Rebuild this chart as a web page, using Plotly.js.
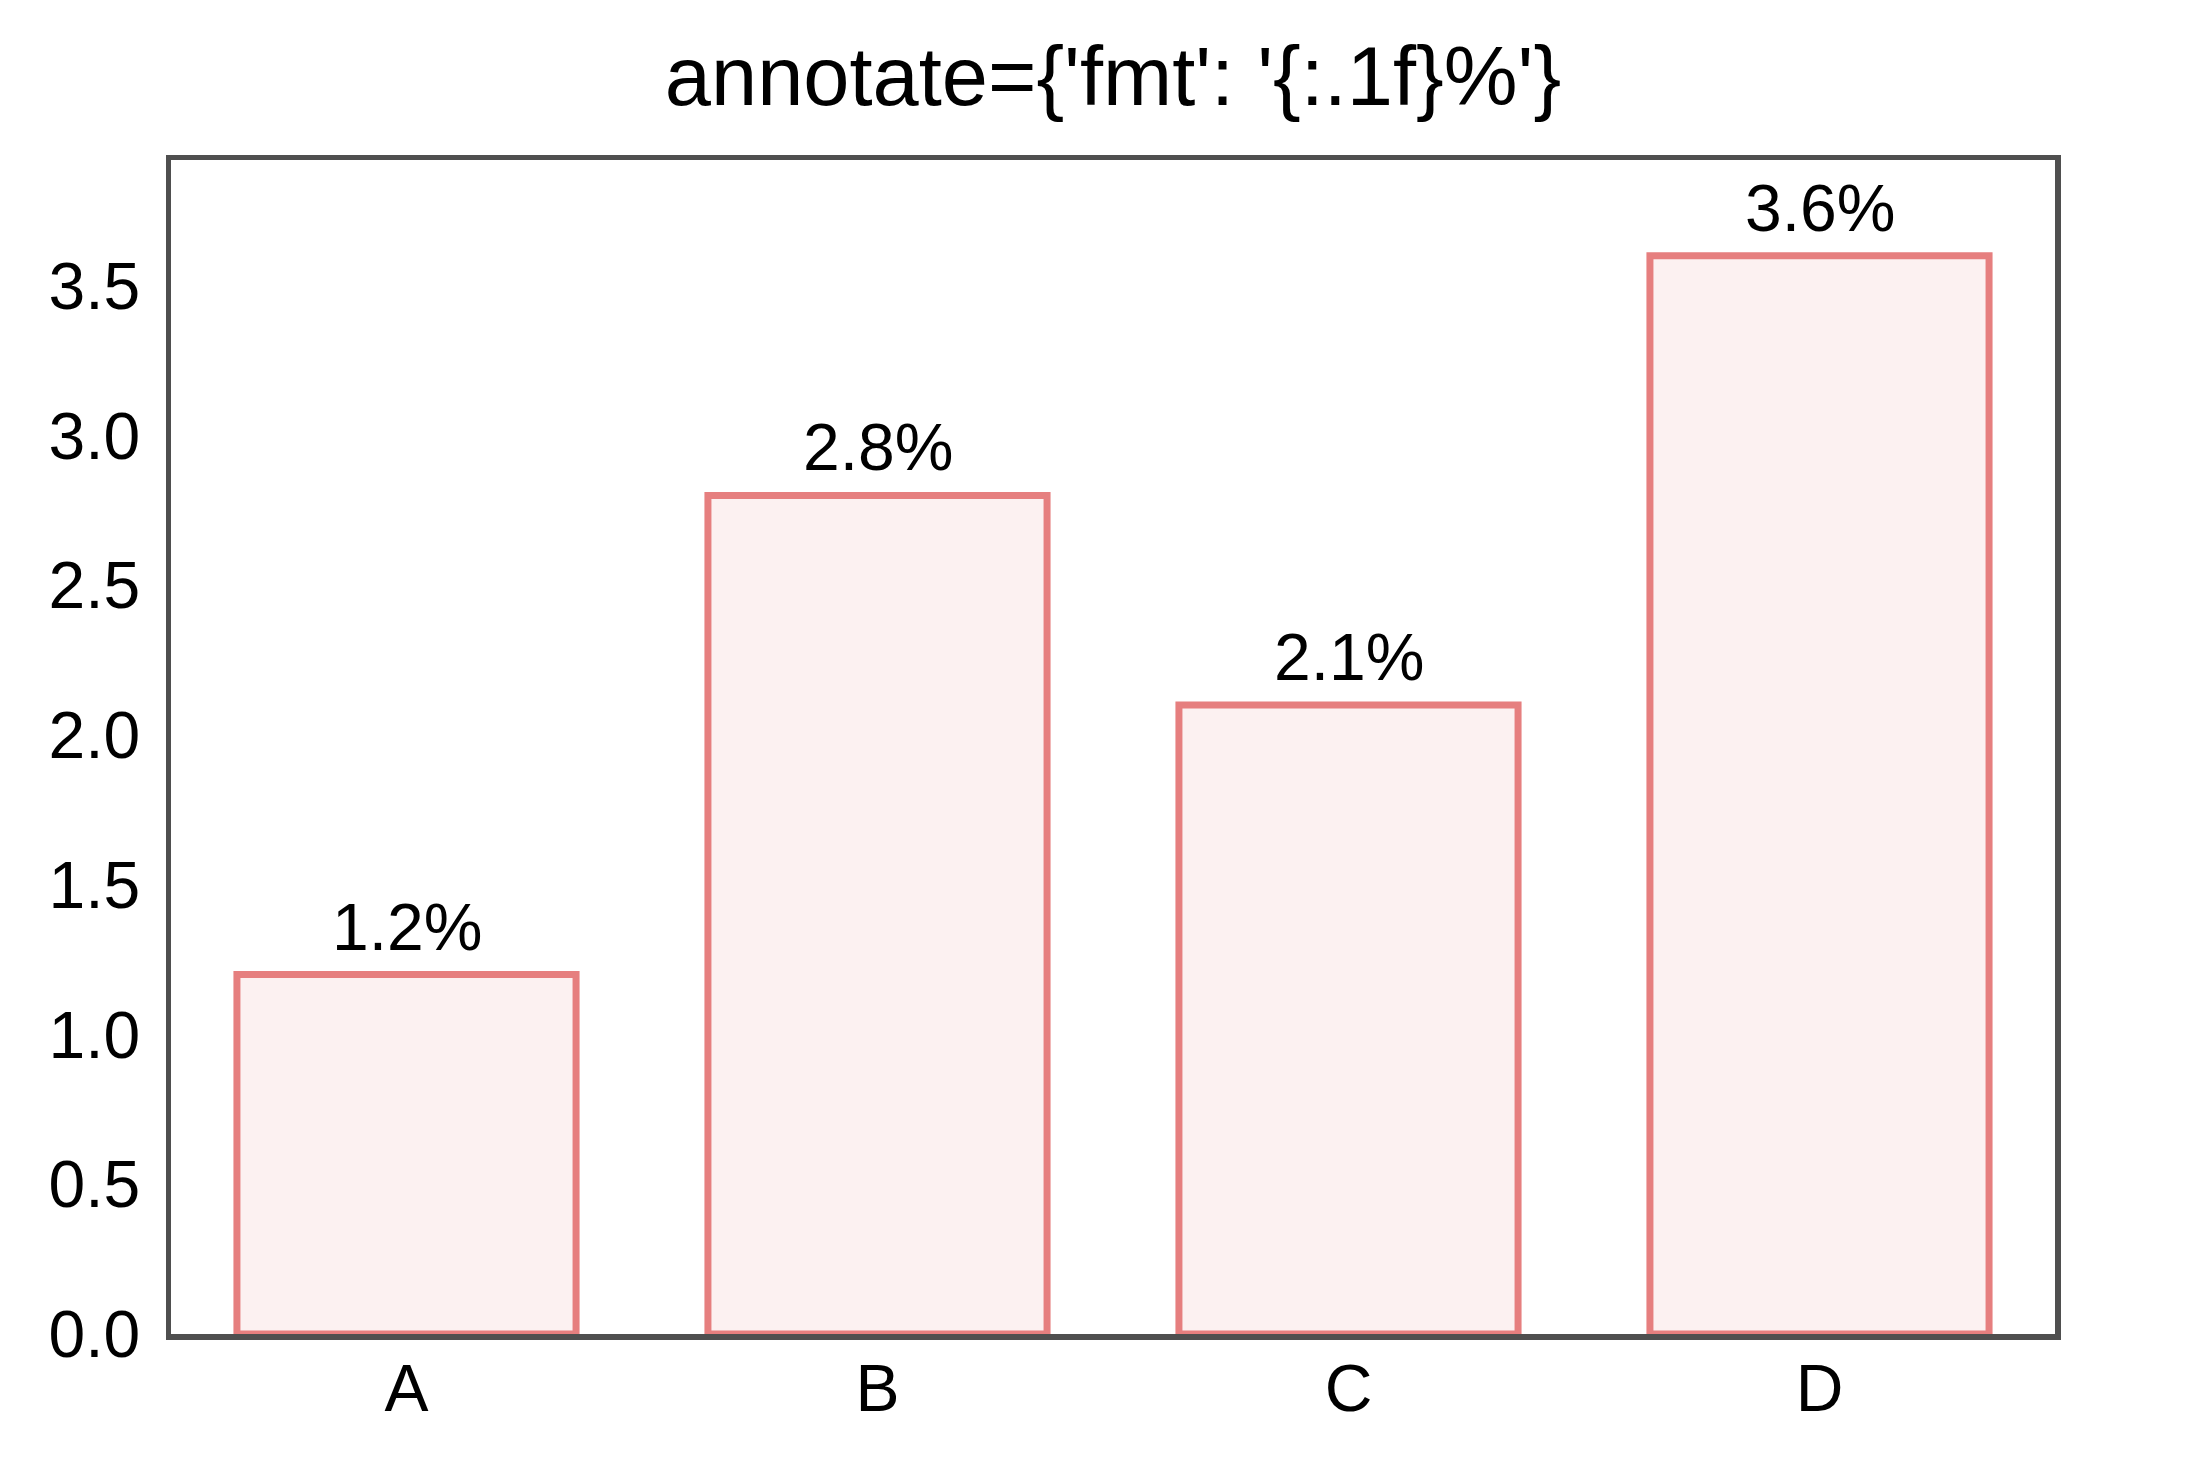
<!DOCTYPE html>
<html>
<head>
<meta charset="utf-8">
<script src="https://cdn.plot.ly/plotly-3.0.1.min.js"></script>
<style>
  html, body { margin: 0; padding: 0; background: #ffffff; }
  #chart { width: 2199px; height: 1477px; }
</style>
</head>
<body>
<div id="chart"></div>
<script>
const categories = ['A', 'B', 'C', 'D'];
const values = [1.2, 2.8, 2.1, 3.6];
const yTicks = [0, 0.5, 1.0, 1.5, 2.0, 2.5, 3.0, 3.5];

const font = 'Liberation Sans, Arial, sans-serif';

const trace = {
    x: categories,
    y: values,
    type: 'bar',
    width: 0.72,
    marker: {
        color: '#fcf1f1',
        line: { color: '#e67f7f', width: 7 }
    },
    hoverinfo: 'none'
};

// value labels above each bar, built from the data
const labels = categories.map((c, i) => ({
    x: c,
    y: values[i],
    text: values[i].toFixed(1) + '%',
    showarrow: false,
    yanchor: 'bottom',
    yshift: 9,
    font: { family: font, size: 66, color: '#000000' }
}));

const layout = {
    width: 2199,
    height: 1477,
    paper_bgcolor: '#ffffff',
    plot_bgcolor: '#ffffff',
    margin: { l: 171, r: 144, t: 160, b: 143 },
    showlegend: false,
    font: { family: font, color: '#000000' },
    title: {
        text: "annotate={'fmt': '{:.1f}%'}",
        x: 0.5,
        xref: 'paper',
        xanchor: 'center',
        y: 1 - 76 / 1477,
        yanchor: 'middle',
        font: { family: font, size: 83, color: '#000000' }
    },
    xaxis: {
        type: 'category',
        range: [-0.5, 3.5],
        showgrid: false,
        zeroline: false,
        showline: true,
        mirror: true,
        linecolor: '#4f4f4f',
        linewidth: 5.5,
        ticks: '',
        ticklabelstandoff: -8,
        tickfont: { family: font, size: 66, color: '#000000' }
    },
    yaxis: {
        range: [0, 3.92],
        tickvals: yTicks,
        ticktext: yTicks.map(v => v.toFixed(1)),
        showgrid: false,
        zeroline: false,
        showline: true,
        mirror: true,
        linecolor: '#4f4f4f',
        linewidth: 5.5,
        ticks: '',
        ticklabelstandoff: 12,
        tickfont: { family: font, size: 66, color: '#000000' }
    },
    annotations: labels
};

Plotly.newPlot('chart', [trace], layout, { staticPlot: true });
</script>
</body>
</html>
